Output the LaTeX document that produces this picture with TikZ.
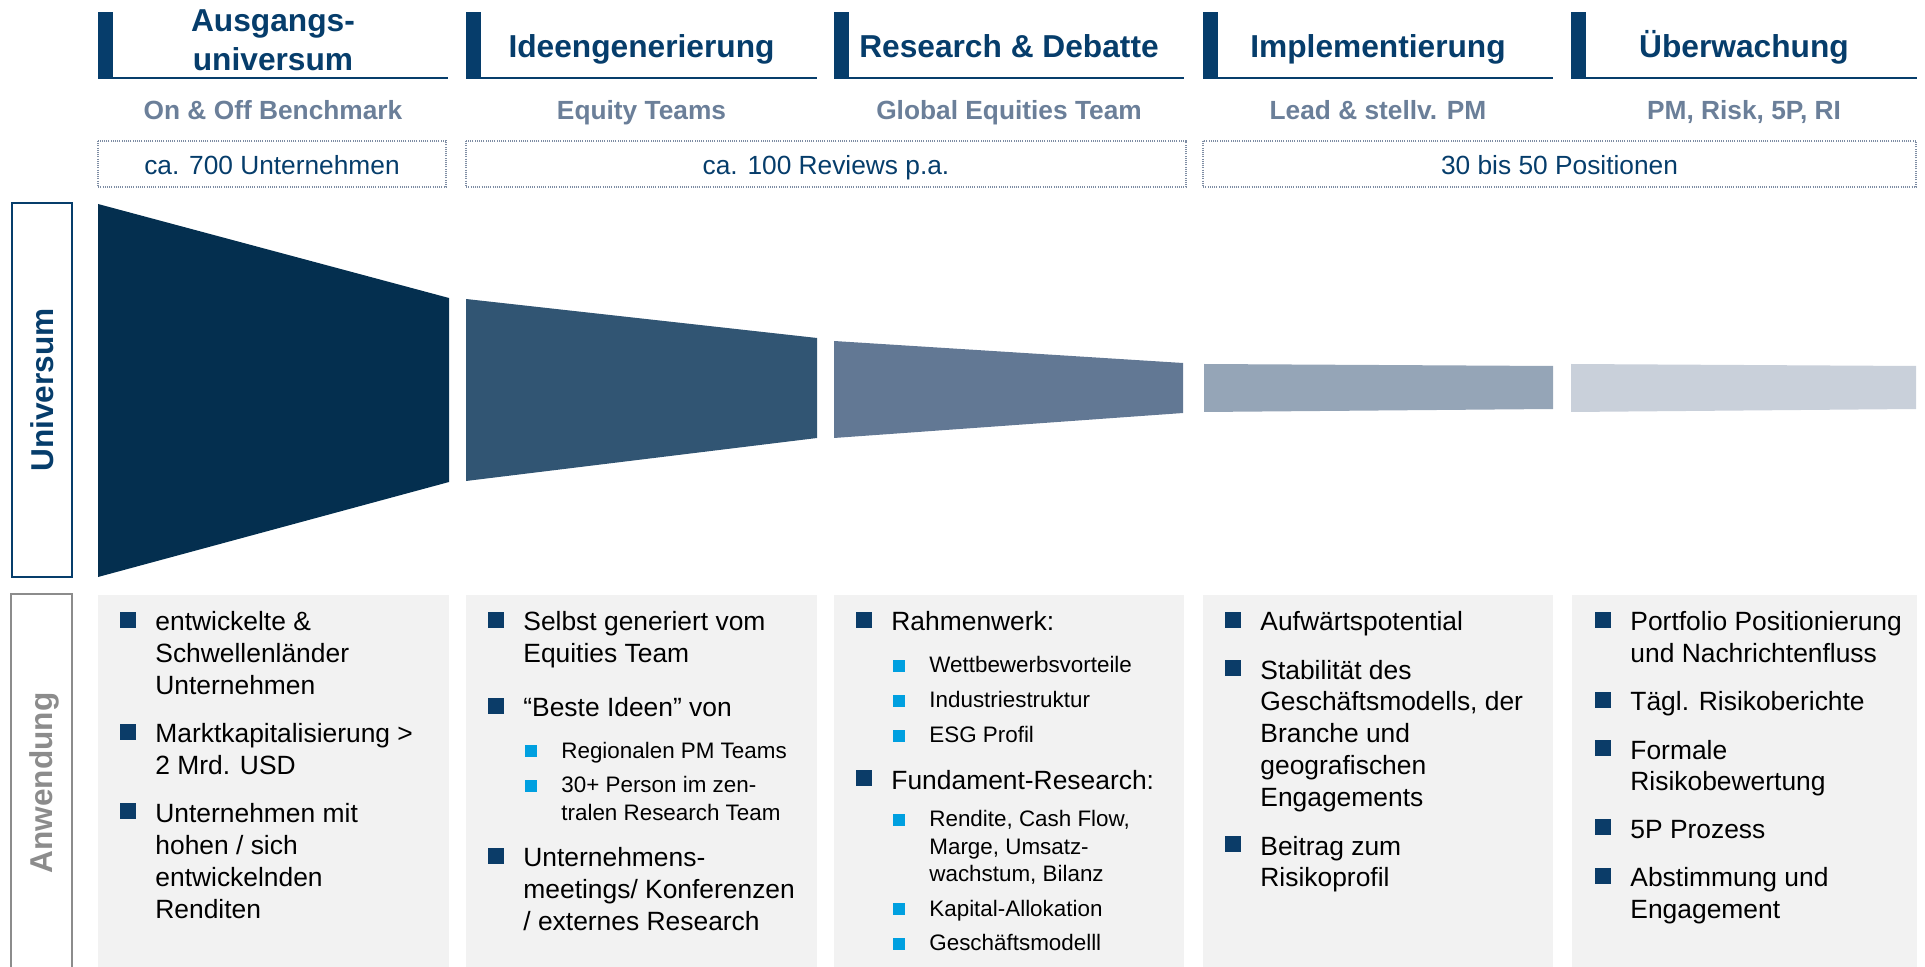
\documentclass[tikz,border=0pt]{standalone}
\usepackage{fontspec}
\setmainfont{Liberation Sans}
\definecolor{navy}{HTML}{063D6B}
\definecolor{subgray}{HTML}{6B7F99}
\definecolor{dotcol}{HTML}{7D8CA3}
\definecolor{sidegray}{HTML}{8C8C8C}
\definecolor{panelgray}{HTML}{F2F2F2}
\definecolor{bulnavy}{HTML}{0B3C68}
\definecolor{bulblue}{HTML}{00A0E0}
\definecolor{fA}{HTML}{042F4F}
\definecolor{fB}{HTML}{315573}
\definecolor{fC}{HTML}{627894}
\definecolor{fD}{HTML}{95A5B7}
\definecolor{fE}{HTML}{C9D0DA}
\newcommand\mbul[2]{\fill[bulnavy] (#1+22,#2-19) rectangle (#1+38,#2-3);}
\newcommand\sbul[2]{\fill[bulblue] (#1+59,#2-13) rectangle (#1+71,#2-1);}
\newcommand\hdrbar[2]{\fill[navy] (#1,12) rectangle (#1+15,79);
  \draw[navy, line width=1pt] (#1,78) -- (#2,78);}
\begin{document}
\begin{tikzpicture}[x=0.5pt,y=-0.5pt,
  hdrtxt/.style={font=\fontsize{15.85}{19}\selectfont\bfseries, text=navy, anchor=base, inner sep=0},
  subtxt/.style={font=\fontsize{13.15}{15}\selectfont\bfseries, text=subgray, anchor=base, inner sep=0},
  boxtxt/.style={font=\fontsize{13.15}{15}\selectfont, text=navy, anchor=base, inner sep=0},
  dotbox/.style={draw=dotcol, line width=0.6pt, dash pattern=on 0.5pt off 0.6pt},
  body/.style={font=\fontsize{13.2}{15}\selectfont, anchor=base west, inner sep=0},
  subbody/.style={font=\fontsize{11.2}{13}\selectfont, anchor=base west, inner sep=0},
  sidelbl/.style={font=\fontsize{15.8}{19}\selectfont\bfseries, rotate=90, anchor=base, inner sep=0}]
\useasboundingbox (0,0) rectangle (1925,967);

% headers
\hdrbar{98}{448}
\hdrbar{466}{817}
\hdrbar{834}{1184}
\hdrbar{1203}{1553}
\hdrbar{1571}{1917}
\node[hdrtxt] (h1a) at (273,32) {Ausgangs-};
\node[hdrtxt] (h1b) at (273,71) {universum};
\node[hdrtxt] (h2) at (641.5,58) {Ideengenerierung};
\node[hdrtxt] (h3) at (1009,58) {Research \& Debatte};
\node[hdrtxt] (h4) at (1378,58) {Implementierung};
\node[hdrtxt] (h5) at (1744,58) {Überwachung};

% subtitles
\node[subtxt] (s1) at (273,120) {On \& Off Benchmark};
\node[subtxt] (s2) at (641.5,120) {Equity Teams};
\node[subtxt] (s3) at (1009,120) {Global Equities Team};
\node[subtxt] (s4) at (1378,120) {Lead \& stellv. PM};
\node[subtxt] (s5) at (1744,120) {PM, Risk, 5P, RI};

% dotted boxes
\draw[dotbox] (98,141) rectangle (446,187);
\draw[dotbox] (466,141) rectangle (1186,187);
\draw[dotbox] (1203,141) rectangle (1916,187);
\node[boxtxt] (b1) at (272,175) {ca. 700 Unternehmen};
\node[boxtxt] (b2) at (826,175) {ca. 100 Reviews p.a.};
\node[boxtxt] (b3) at (1559.5,175) {30 bis 50 Positionen};

% side labels
\draw[navy, line width=0.75pt] (12,203) rectangle (72,577);
\node[sidelbl, text=navy] (univ) at (53,390) {Universum};
\draw[sidegray, line width=0.75pt] (11,967) -- (11,594) -- (72,594) -- (72,967);
\node[sidelbl, text=sidegray] (anw) at (52,783) {Anwendung};

% funnel
\fill[fA] (98,204) -- (449,298) -- (449,482) -- (98,577) -- cycle;
\fill[fB] (466,299) -- (817,338) -- (817,438) -- (466,481) -- cycle;
\fill[fC] (834,341) -- (1183,363) -- (1183,413) -- (834,438) -- cycle;
\fill[fD] (1204,364) -- (1553,366) -- (1553,409) -- (1204,412) -- cycle;
\fill[fE] (1571,364) -- (1916,366) -- (1916,409) -- (1571,412) -- cycle;

% panels
\fill[panelgray] (98,595) rectangle (449,967);
\fill[panelgray] (466,595) rectangle (817,967);
\fill[panelgray] (834,595) rectangle (1184,967);
\fill[panelgray] (1203,595) rectangle (1553,967);
\fill[panelgray] (1572,595) rectangle (1917,967);

% column 1
\mbul{98}{630.7}\mbul{98}{742.7}\mbul{98}{822.3}
\node[body] (c1a) at (155,630.7) {entwickelte \&};
\node[body] (c1b) at (155,662.3) {Schwellenländer};
\node[body] (c1c) at (155,694.3) {Unternehmen};
\node[body] (c1d) at (155,742.7) {Marktkapitalisierung >};
\node[body] (c1e) at (155,774.3) {2 Mrd. USD};
\node[body] (c1f) at (155,822.3) {Unternehmen mit};
\node[body] (c1g) at (155,854.3) {hohen / sich};
\node[body] (c1h) at (155,886) {entwickelnden};
\node[body] (c1i) at (155,918.3) {Renditen};

% column 2
\mbul{466}{630.7}\mbul{466}{716.7}\mbul{466}{866.7}
\sbul{466}{758.3}\sbul{466}{792.7}
\node[body] (c2a) at (523,630.7) {Selbst generiert vom};
\node[body] (c2b) at (523,662.3) {Equities Team};
\node[body] (c2c) at (523,716.7) {“Beste Ideen” von};
\node[subbody] (c2d) at (561,758.3) {Regionalen PM Teams};
\node[subbody] (c2e) at (561,792.7) {30+ Person im zen-};
\node[subbody] (c2f) at (561,820) {tralen Research Team};
\node[body] (c2g) at (523,866.7) {Unternehmens-};
\node[body] (c2h) at (523,898.4) {meetings/ Konferenzen};
\node[body] (c2i) at (523,930.1) {/ externes Research};

% column 3
\mbul{834}{630.7}\mbul{834}{789}
\sbul{834}{672.7}\sbul{834}{707.7}\sbul{834}{742.7}
\sbul{834}{826.7}\sbul{834}{916}\sbul{834}{950.7}
\node[body] (c3a) at (891,630.7) {Rahmenwerk:};
\node[subbody] (c3b) at (929,672.7) {Wettbewerbsvorteile};
\node[subbody] (c3c) at (929,707.7) {Industriestruktur};
\node[subbody] (c3d) at (929,742.7) {ESG Profil};
\node[body] (c3e) at (891,789) {Fundament-Research:};
\node[subbody] (c3f) at (929,826.7) {Rendite, Cash Flow,};
\node[subbody] (c3g) at (929,854) {Marge, Umsatz-};
\node[subbody] (c3h) at (929,881) {wachstum, Bilanz};
\node[subbody] (c3i) at (929,916) {Kapital-Allokation};
\node[subbody] (c3j) at (929,950.7) {Geschäftsmodelll};

% column 4
\mbul{1203}{630.7}\mbul{1203}{679}\mbul{1203}{855}
\node[body] (c4a) at (1260,630.7) {Aufwärtspotential};
\node[body] (c4b) at (1260,679) {Stabilität des};
\node[body] (c4c) at (1260,710.7) {Geschäftsmodells, der};
\node[body] (c4d) at (1260,742.3) {Branche und};
\node[body] (c4e) at (1260,774.3) {geografischen};
\node[body] (c4f) at (1260,806) {Engagements};
\node[body] (c4g) at (1260,855) {Beitrag zum};
\node[body] (c4h) at (1260,886.7) {Risikoprofil};

% column 5
\mbul{1573}{630.7}\mbul{1573}{710.7}\mbul{1573}{759}\mbul{1573}{838.3}\mbul{1573}{886.7}
\node[body] (c5a) at (1630,630.7) {Portfolio Positionierung};
\node[body] (c5b) at (1630,662.3) {und Nachrichtenfluss};
\node[body] (c5c) at (1630,710.7) {Tägl. Risikoberichte};
\node[body] (c5d) at (1630,759) {Formale};
\node[body] (c5e) at (1630,790.7) {Risikobewertung};
\node[body] (c5f) at (1630,838.3) {5P Prozess};
\node[body] (c5g) at (1630,886.7) {Abstimmung und};
\node[body] (c5h) at (1630,918.3) {Engagement};
\end{tikzpicture}
\end{document}
